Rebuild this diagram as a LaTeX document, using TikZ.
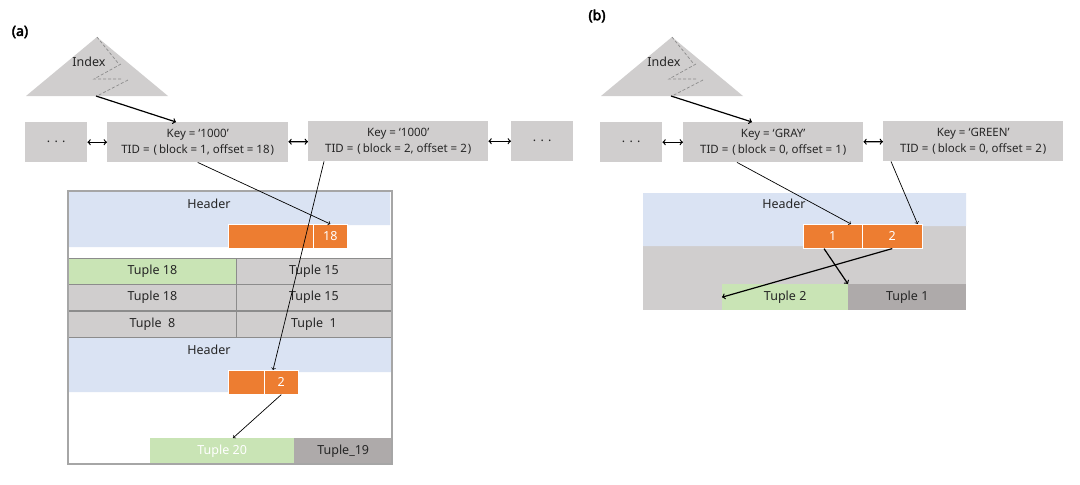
\documentclass[tikz,border=0pt]{standalone}
\usepackage{fontspec}
\setmainfont{Noto Sans}[AutoFakeBold=3]
\usepackage{tikz}
\definecolor{boxgray}{HTML}{D0CECE}
\definecolor{hdrblue}{HTML}{DAE3F3}
\definecolor{slotorange}{HTML}{ED7D31}
\definecolor{tupgreen}{HTML}{C9E4B5}
\definecolor{tupdark}{HTML}{AEAAAA}
\definecolor{framegray}{HTML}{A6A6A6}
\definecolor{linegray}{HTML}{8C8C8C}
\tikzset{
    textnode/.style={inner sep=0pt,align=center,text=black!85,font=\fontsize{12.5}{14}\selectfont},
    cellnode/.style={textnode,anchor=north west},
    keynode/.style={cellnode,fill=boxgray,minimum width=181pt,minimum height=40pt,font=\fontsize{11.5}{16}\selectfont},
    dotsnode/.style={cellnode,fill=boxgray,minimum width=62pt,minimum height=40pt},
    slotnode/.style={cellnode,fill=slotorange,draw=white,line width=0.6pt,text=white,minimum height=24pt},
    tuplenode/.style={cellnode,fill=boxgray,draw=linegray,line width=0.8pt,minimum height=26pt},
    flatnode/.style={cellnode,minimum height=26pt},
    labelnode/.style={inner sep=0pt,font=\fontsize{14}{16}\selectfont\bfseries},
    thinline/.style={line width=0.7pt},
    thickline/.style={line width=1.2pt}
}
\begin{document}
\begin{tikzpicture}[x=1pt,y=-1pt,>=to]
\useasboundingbox (0,0) rectangle (1080,485);

\node[labelnode] (la) at (20,32) {(a)};
\node[labelnode] (lb) at (597,16) {(b)};

% index trees
\foreach \dx/\nm in {0/a,575/b}{
    \fill[boxgray] (26+\dx,96) -- (97+\dx,37) -- (168+\dx,96) -- cycle;
    \draw[dashed,linegray,line width=0.7pt,dash pattern=on 3pt off 2pt]
        (97+\dx,37) -- (118+\dx,63) (121+\dx,64) -- (94+\dx,79) -- (121+\dx,79) (128+\dx,80) -- (97+\dx,96);
    \node[textnode] (idx\nm) at (89+\dx,62) {Index};
    \coordinate (root\nm) at (96+\dx,96);
}

% (a) key list
\node[dotsnode] (ad1) at (25,122) {. . .};
\node[keynode] (ak1) at (107,122) {Key = ‘1000’\\TID =\hspace{4pt}(\hspace{2pt}block = 1, offset = 18\hspace{1pt})};
\node[keynode,minimum width=180pt] (ak2) at (308,121) {Key = ‘1000’\\TID =\hspace{4pt}(\hspace{2pt}block = 2, offset = 2\hspace{1pt})};
\node[dotsnode] (ad2) at (511,121) {. . .};

% (a) heap page
\fill[hdrblue] (68,191) -- (390,191) -- (390,225) -- (228,225) -- (228,247) -- (68,247) -- cycle;
\node[textnode] (ah1) at (209,204) {Header};
\node[slotnode,minimum width=85pt] (as0) at (228,224) {};
\node[slotnode,minimum width=34pt] (as18) at (313,224) {18};

\node[tuplenode,fill=tupgreen,minimum width=168pt] (ar1a) at (68,258) {Tuple 18};
\node[tuplenode,minimum width=155pt] (ar1b) at (236,258) {Tuple 15};
\node[tuplenode,minimum width=168pt] (ar2a) at (68,284) {Tuple 18};
\node[tuplenode,minimum width=155pt] (ar2b) at (236,284) {Tuple 15};
\node[tuplenode,minimum width=168pt] (ar3a) at (68,311) {Tuple\ \ 8};
\node[tuplenode,minimum width=155pt] (ar3b) at (236,311) {Tuple\ \ 1};

\fill[hdrblue] (68,338) -- (392,338) -- (392,372) -- (228,372) -- (228,392) -- (68,392) -- cycle;
\node[textnode] (ah2) at (209,350) {Header};
\node[slotnode,minimum width=36pt] (as1) at (228,370) {};
\node[slotnode,minimum width=34pt] (as2) at (264,370) {2};

\node[flatnode,fill=tupgreen,text=white,minimum width=144pt] (at20) at (150,438) {Tuple 20};
\node[flatnode,fill=tupdark,minimum width=98pt] (at19) at (294,438) {Tuple\_19};
\draw[framegray,line width=1.2pt] (68,191) rectangle (392,464);

\draw[<->,thickline] (ad1) -- (ak1);
\draw[<->,thickline] (ak1) -- (ak2);
\draw[<->,thickline] (ak2) -- (ad2);
\draw[->,thickline] (roota) -- ([xshift=69pt]ak1.north west);
\draw[->,thinline] (ak1.south) -- (as18.north);
\draw[->,thinline] ([xshift=16pt]ak2.south west) -- ([xshift=9pt]as2.north west);
\draw[->,thinline] (as2.south) -- ([xshift=83pt]at20.north west);

% (b) key list
\node[dotsnode] (bd1) at (600,122) {. . .};
\node[keynode,minimum width=180pt] (bk1) at (683,122) {Key = ‘GRAY’\\TID =\hspace{4pt}(\hspace{2pt}block = 0, offset = 1\hspace{1pt})};
\node[keynode,minimum width=180pt] (bk2) at (883,121) {Key = ‘GREEN’\\TID =\hspace{4pt}(\hspace{2pt}block = 0, offset = 2\hspace{1pt})};

% (b) heap page
\fill[boxgray] (643,226) rectangle (966,310);
\fill[hdrblue] (643,193) -- (966,193) -- (966,226) -- (803,226) -- (803,246) -- (643,246) -- cycle;
\node[textnode] (bh) at (784,204) {Header};
\node[slotnode,minimum width=59pt] (bs1) at (803,224) {1};
\node[slotnode,minimum width=60pt] (bs2) at (862,224) {2};
\node[flatnode,fill=tupgreen,minimum width=126pt] (bt2) at (722,284) {Tuple 2};
\node[flatnode,fill=tupdark,minimum width=118pt] (bt1) at (848,284) {Tuple 1};

\draw[<->,thickline] (bd1) -- (bk1);
\draw[<->,thickline] (bk1) -- (bk2);
\draw[->,thickline] (rootb) -- ([xshift=69pt]bk1.north west);
\draw[->,thinline] ([xshift=54pt]bk1.south west) -- ([xshift=48pt]bs1.north west);
\draw[->,thinline] ([xshift=8pt]bk2.south west) -- ([xshift=-5pt]bs2.north east);
\draw[->,thickline] ([xshift=21pt]bs1.south west) -- (bt1.north west);
\draw[->,thickline] (bs2.south) -- (bt2.west);

\end{tikzpicture}
\end{document}
